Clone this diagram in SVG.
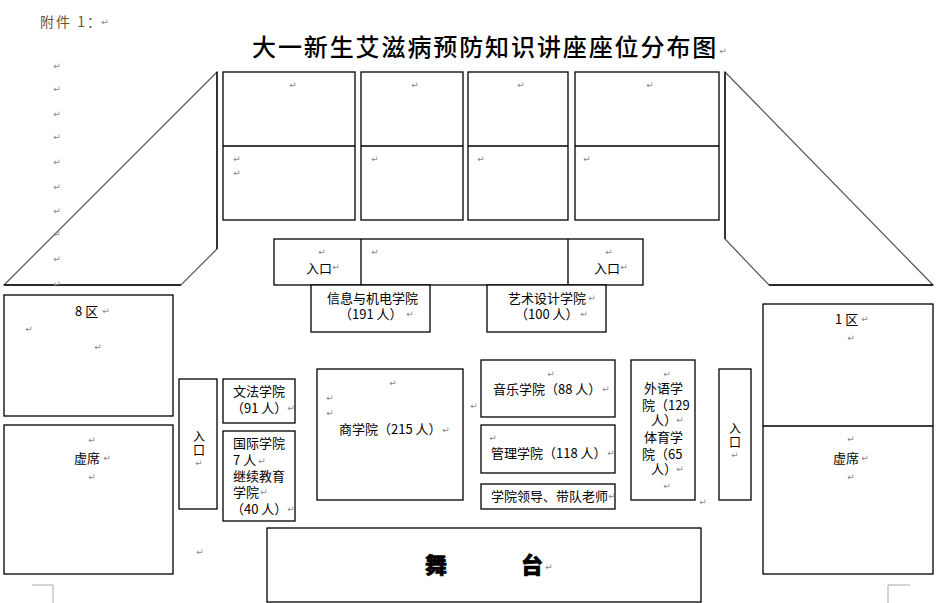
<svg xmlns="http://www.w3.org/2000/svg" width="945" height="603" viewBox="0 0 945 603">
<style>
.b{fill:#fff;stroke:#000;stroke-width:1.3}
.ln{fill:none;stroke:#000;stroke-width:1.3}
.dg{fill:none;stroke:#555;stroke-width:1.2}
.t{font-family:"Noto Sans CJK SC","Liberation Sans",sans-serif;font-size:13px;fill:#000}
.v{font-family:"Noto Sans CJK SC","Liberation Sans",sans-serif;font-size:12px;fill:#000;text-anchor:middle}
.pm{font-family:"DejaVu Sans",sans-serif;font-size:9px;fill:#888;text-anchor:middle}
.cm{fill:none;stroke:#aaa;stroke-width:1}
</style>
<rect width="945" height="603" fill="#fff"/>
<g id="header">
<text x="40" y="27" style="font-family:'Noto Sans CJK SC',sans-serif;font-size:14px;letter-spacing:2px;fill:#6b5535">附件 1：</text>
<text x="252" y="56" style="font-family:'Noto Sans CJK SC',sans-serif;font-size:24px;font-weight:500;letter-spacing:1.9px;fill:#000">大一新生艾滋病预防知识讲座座位分布图</text>
</g>
<g id="stands">
<path class="dg" d="M217,72 L4,285 L181,285 L217,249 Z"/>
<path class="ln" d="M217,72 L217,249 M4,285 L181,285"/>
<path class="dg" d="M725,72 L933,285 L769,285 L725,239 Z"/>
<path class="ln" d="M725,72 L725,239 M769,285 L933,285"/>
</g>
<g id="top-blocks">
<rect class="b" x="223" y="72" width="132" height="148"/>
<line class="ln" x1="223" y1="146" x2="355" y2="146"/>
<rect class="b" x="361" y="72" width="102" height="148"/>
<line class="ln" x1="361" y1="146" x2="463" y2="146"/>
<rect class="b" x="468" y="72" width="100" height="148"/>
<line class="ln" x1="468" y1="146" x2="568" y2="146"/>
<rect class="b" x="575" y="72" width="144" height="148"/>
<line class="ln" x1="575" y1="146" x2="719" y2="146"/>
</g>
<g id="entrance-row">
<rect class="b" x="274" y="239" width="369" height="46"/>
<line class="ln" x1="361" y1="239" x2="361" y2="285"/>
<line class="ln" x1="568" y1="239" x2="568" y2="285"/>
<text class="t" x="306" y="273">入口</text>
<text class="t" x="594" y="273">入口</text>
</g>
<g id="xinxi">
<rect class="b" x="311" y="285" width="119" height="47"/>
<text class="t" x="327" y="303">信息与机电学院</text>
<text class="t" x="339" y="319">（191 人）</text>
</g>
<g id="yishu">
<rect class="b" x="487" y="285" width="119" height="47"/>
<text class="t" x="508" y="303">艺术设计学院</text>
<text class="t" x="515" y="319">（100 人）</text>
</g>
<g id="zone8">
<rect class="b" x="4" y="295" width="169" height="121"/>
<text class="t" x="75" y="316">8 区</text>
</g>
<g id="xuxi-left">
<rect class="b" x="4" y="425" width="169" height="149"/>
<text class="t" x="74" y="463">虚席</text>
</g>
<g id="entrance-left">
<rect class="b" x="179" y="379" width="38" height="130"/>
<text class="v" x="199" y="441">入</text>
<text class="v" x="199" y="455">口</text>
</g>
<g id="wenfa">
<rect class="b" x="223" y="379" width="72" height="44"/>
<text class="t" x="233" y="396">文法学院</text>
<text class="t" x="231" y="413">（91 人）</text>
</g>
<g id="guoji">
<rect class="b" x="223" y="431" width="72" height="90"/>
<text class="t" x="233" y="448">国际学院</text>
<text class="t" x="233" y="465">7 人</text>
<text class="t" x="233" y="481">继续教育</text>
<text class="t" x="233" y="497">学院</text>
<text class="t" x="231" y="514">（40 人）</text>
</g>
<g id="shang">
<rect class="b" x="317" y="369" width="146" height="131"/>
<text class="t" x="339" y="434">商学院（215 人）</text>
</g>
<g id="yinyue">
<rect class="b" x="481" y="360" width="134" height="57"/>
<text class="t" x="493" y="394">音乐学院（88 人）</text>
</g>
<g id="guanli">
<rect class="b" x="481" y="425" width="134" height="48"/>
<text class="t" x="491" y="458">管理学院（118 人）</text>
</g>
<g id="lingdao">
<rect class="b" x="481" y="484" width="134" height="25"/>
<text class="t" x="491" y="501">学院领导、带队老师</text>
</g>
<g id="waiyu">
<rect class="b" x="631" y="360" width="64" height="140"/>
<text class="t" x="644" y="393">外语学</text>
<text class="t" x="642" y="410">院（129</text>
<text class="t" x="651" y="425">人）</text>
<text class="t" x="644" y="442">体育学</text>
<text class="t" x="642" y="459">院（65</text>
<text class="t" x="651" y="474">人）</text>
</g>
<g id="entrance-right">
<rect class="b" x="719" y="369" width="32" height="131"/>
<text class="v" x="735" y="433">入</text>
<text class="v" x="735" y="447">口</text>
</g>
<g id="zone1">
<rect class="b" x="763" y="304" width="170" height="270"/>
<line class="ln" x1="763" y1="426" x2="933" y2="426"/>
<text class="t" x="835" y="324">1 区</text>
<text class="t" x="833" y="463">虚席</text>
</g>
<g id="stage">
<rect class="b" x="267" y="528" width="434" height="74"/>
<text x="425" y="573" style="font-family:'Noto Sans CJK SC',sans-serif;font-size:22px;font-weight:900;fill:#000;stroke:#000;stroke-width:0.6">舞</text>
<text x="521" y="573" style="font-family:'Noto Sans CJK SC',sans-serif;font-size:22px;font-weight:900;fill:#000;stroke:#000;stroke-width:0.6">台</text>
</g>
<g id="corner-marks">
<path class="cm" d="M32,585 L53,585 L53,603"/>
<path class="cm" d="M910,585 L888,585 L888,603"/>
</g>
<g id="paragraph-marks">
<text class="pm" x="105" y="25">↵</text>
<text class="pm" x="723" y="54">↵</text>
<text class="pm" x="57" y="69">↵</text>
<text class="pm" x="57" y="92">↵</text>
<text class="pm" x="57" y="117">↵</text>
<text class="pm" x="57" y="140">↵</text>
<text class="pm" x="57" y="165">↵</text>
<text class="pm" x="57" y="190">↵</text>
<text class="pm" x="57" y="214">↵</text>
<text class="pm" x="57" y="237">↵</text>
<text class="pm" x="57" y="262">↵</text>
<text class="pm" x="57" y="287">↵</text>
<text class="pm" x="293" y="88">↵</text>
<text class="pm" x="237" y="162">↵</text>
<text class="pm" x="237" y="176">↵</text>
<text class="pm" x="415" y="88">↵</text>
<text class="pm" x="375" y="162">↵</text>
<text class="pm" x="521" y="88">↵</text>
<text class="pm" x="481" y="162">↵</text>
<text class="pm" x="650" y="88">↵</text>
<text class="pm" x="587" y="162">↵</text>
<text class="pm" x="322" y="255">↵</text>
<text class="pm" x="336" y="270">↵</text>
<text class="pm" x="375" y="255">↵</text>
<text class="pm" x="609" y="255">↵</text>
<text class="pm" x="624" y="270">↵</text>
<text class="pm" x="410" y="317">↵</text>
<text class="pm" x="592" y="301">↵</text>
<text class="pm" x="584" y="317">↵</text>
<text class="pm" x="106" y="314">↵</text>
<text class="pm" x="29" y="332">↵</text>
<text class="pm" x="98" y="350">↵</text>
<text class="pm" x="92" y="443">↵</text>
<text class="pm" x="107" y="461">↵</text>
<text class="pm" x="92" y="480">↵</text>
<text class="pm" x="199" y="466">↵</text>
<text class="pm" x="291" y="411">↵</text>
<text class="pm" x="262" y="464">↵</text>
<text class="pm" x="264" y="495">↵</text>
<text class="pm" x="291" y="512">↵</text>
<text class="pm" x="393" y="386">↵</text>
<text class="pm" x="330" y="401">↵</text>
<text class="pm" x="330" y="416">↵</text>
<text class="pm" x="446" y="433">↵</text>
<text class="pm" x="474" y="409">↵</text>
<text class="pm" x="200" y="555">↵</text>
<text class="pm" x="551" y="377">↵</text>
<text class="pm" x="606" y="392">↵</text>
<text class="pm" x="493" y="441">↵</text>
<text class="pm" x="611" y="456">↵</text>
<text class="pm" x="612" y="499">↵</text>
<text class="pm" x="667" y="377">↵</text>
<text class="pm" x="680" y="423">↵</text>
<text class="pm" x="680" y="472">↵</text>
<text class="pm" x="667" y="489">↵</text>
<text class="pm" x="703" y="505">↵</text>
<text class="pm" x="735" y="458">↵</text>
<text class="pm" x="865" y="322">↵</text>
<text class="pm" x="851" y="341">↵</text>
<text class="pm" x="851" y="442">↵</text>
<text class="pm" x="865" y="461">↵</text>
<text class="pm" x="851" y="480">↵</text>
<text class="pm" x="549" y="570">↵</text>
</g>
</svg>
